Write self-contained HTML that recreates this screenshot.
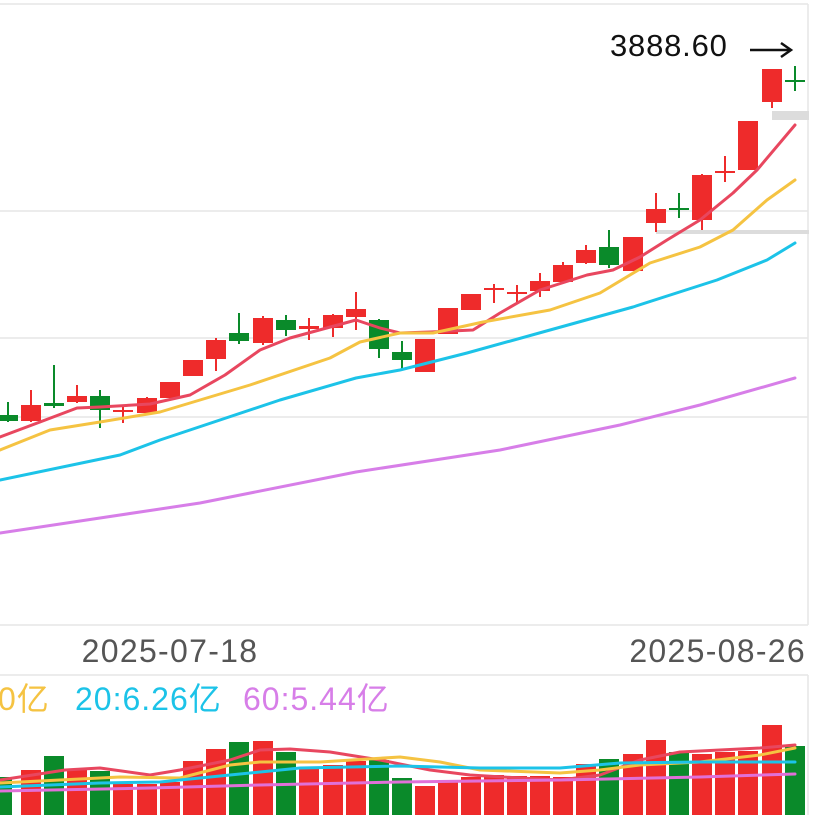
<!DOCTYPE html>
<html><head><meta charset="utf-8"><style>
html,body{margin:0;padding:0;background:#fff;width:815px;height:815px;overflow:hidden}
svg{display:block}
text{font-family:"Liberation Sans","Noto Sans CJK SC",sans-serif}
</style></head><body>
<svg width="815" height="815" viewBox="0 0 815 815" xmlns="http://www.w3.org/2000/svg">
<g stroke="#e6e6e6" stroke-width="1.5" fill="none">
<line x1="0" y1="4" x2="808" y2="4"/>
<line x1="0" y1="211" x2="808" y2="211"/>
<line x1="0" y1="338" x2="808" y2="338"/>
<line x1="0" y1="417" x2="808" y2="417"/>
<line x1="0" y1="625" x2="808" y2="625"/>
<line x1="808" y1="4" x2="808" y2="625"/>
<line x1="0" y1="675" x2="808" y2="675"/>
<line x1="808" y1="675" x2="808" y2="815"/>
</g>
<rect x="772" y="111" width="37" height="9" fill="#dcdcdc"/>
<rect x="656" y="230" width="153" height="4" fill="#dcdcdc"/>
<g stroke="#0a8a2a" stroke-width="2">
<line x1="8" y1="402" x2="8" y2="422"/><line x1="54" y1="365" x2="54" y2="408"/><line x1="100" y1="390" x2="100" y2="428"/><line x1="239" y1="313" x2="239" y2="344"/><line x1="286" y1="315" x2="286" y2="336"/><line x1="379" y1="319" x2="379" y2="358"/><line x1="402" y1="341" x2="402" y2="369"/><line x1="609" y1="230" x2="609" y2="268"/><line x1="679" y1="193" x2="679" y2="218"/><line x1="795" y1="66" x2="795" y2="91"/>
</g>
<g stroke="#ee2b2b" stroke-width="2">
<line x1="31" y1="390" x2="31" y2="422"/><line x1="77" y1="385" x2="77" y2="403"/><line x1="123" y1="405" x2="123" y2="423"/><line x1="147" y1="397" x2="147" y2="414"/><line x1="216" y1="338" x2="216" y2="371"/><line x1="263" y1="316" x2="263" y2="345"/><line x1="309" y1="318" x2="309" y2="340"/><line x1="333" y1="314" x2="333" y2="337"/><line x1="356" y1="292" x2="356" y2="330"/><line x1="494" y1="284" x2="494" y2="303"/><line x1="517" y1="285" x2="517" y2="302"/><line x1="540" y1="273" x2="540" y2="297"/><line x1="563" y1="262" x2="563" y2="283"/><line x1="586" y1="245" x2="586" y2="264"/><line x1="656" y1="193" x2="656" y2="232"/><line x1="702" y1="174" x2="702" y2="230"/><line x1="725" y1="156" x2="725" y2="182"/><line x1="772" y1="69" x2="772" y2="108"/>
</g>
<g fill="#0a8a2a">
<rect x="-2" y="415" width="20" height="6"/><rect x="44" y="403" width="20" height="3"/><rect x="90" y="396" width="20" height="14"/><rect x="229" y="333" width="20" height="8"/><rect x="276" y="320" width="20" height="10"/><rect x="369" y="320" width="20" height="29"/><rect x="392" y="352" width="20" height="8"/><rect x="599" y="247" width="20" height="18"/><rect x="669" y="208" width="20" height="2"/><rect x="785" y="80" width="20" height="2"/>
<rect x="-2" y="777" width="14" height="38"/><rect x="44" y="756" width="20" height="59"/><rect x="90" y="771" width="20" height="44"/><rect x="229" y="742" width="20" height="73"/><rect x="276" y="752" width="20" height="63"/><rect x="369" y="760" width="20" height="55"/><rect x="392" y="778" width="20" height="37"/><rect x="599" y="759" width="20" height="56"/><rect x="669" y="752" width="20" height="63"/><rect x="785" y="746" width="20" height="69"/>
</g>
<g fill="#ee2b2b">
<rect x="21" y="405" width="20" height="16"/><rect x="67" y="396" width="20" height="6"/><rect x="113" y="410" width="20" height="2"/><rect x="137" y="398" width="20" height="15"/><rect x="160" y="382" width="20" height="16"/><rect x="183" y="360" width="20" height="16"/><rect x="206" y="340" width="20" height="19"/><rect x="253" y="318" width="20" height="25"/><rect x="299" y="326" width="20" height="3"/><rect x="323" y="315" width="20" height="13"/><rect x="346" y="309" width="20" height="8"/><rect x="415" y="339" width="20" height="33"/><rect x="438" y="308" width="20" height="26"/><rect x="461" y="294" width="20" height="16"/><rect x="484" y="288" width="20" height="2"/><rect x="507" y="292" width="20" height="2"/><rect x="530" y="281" width="20" height="10"/><rect x="553" y="265" width="20" height="17"/><rect x="576" y="250" width="20" height="13"/><rect x="623" y="237" width="20" height="34"/><rect x="646" y="209" width="20" height="14"/><rect x="692" y="175" width="20" height="45"/><rect x="715" y="171" width="20" height="2"/><rect x="738" y="121" width="20" height="49"/><rect x="762" y="69" width="20" height="33"/>
<rect x="21" y="770" width="20" height="45"/><rect x="67" y="769" width="20" height="46"/><rect x="113" y="784" width="20" height="31"/><rect x="137" y="784" width="20" height="31"/><rect x="160" y="782" width="20" height="33"/><rect x="183" y="761" width="20" height="54"/><rect x="206" y="749" width="20" height="66"/><rect x="253" y="741" width="20" height="74"/><rect x="299" y="767" width="20" height="48"/><rect x="323" y="765" width="20" height="50"/><rect x="346" y="761" width="20" height="54"/><rect x="415" y="786" width="20" height="29"/><rect x="438" y="780" width="20" height="35"/><rect x="461" y="777" width="20" height="38"/><rect x="484" y="775" width="20" height="40"/><rect x="507" y="776" width="20" height="39"/><rect x="530" y="776" width="20" height="39"/><rect x="553" y="777" width="20" height="38"/><rect x="576" y="764" width="20" height="51"/><rect x="623" y="754" width="20" height="61"/><rect x="646" y="740" width="20" height="75"/><rect x="692" y="754" width="20" height="61"/><rect x="715" y="752" width="20" height="63"/><rect x="738" y="751" width="20" height="64"/><rect x="762" y="725" width="20" height="90"/>
</g>
<g fill="none" stroke-width="3" stroke-linejoin="round" stroke-linecap="round">
<polyline stroke="#e8475f" points="0,437 40,422 77,408 100,407 150,404 190,395 225,375 260,350 290,338 356,320 380,328 400,333 430,332 473,330 500,313 540,290 587,275 613,270 640,257 667,240 700,220 733,193 757,170 795,125"/>
<polyline stroke="#f5c342" points="0,450 50,430 100,422 160,412 250,385 330,358 360,342 400,333 433,333 483,322 550,310 600,293 650,263 700,247 733,230 767,200 795,180"/>
<polyline stroke="#1cc3e8" points="0,480 120,455 160,440 280,400 356,378 400,370 467,353 550,330 633,307 717,280 767,260 795,243"/>
<polyline stroke="#d77ee8" points="0,533 100,518 200,503 356,472 500,450 620,425 700,405 795,378"/>
<polyline stroke="#e8475f" points="0,780 65,770 100,768 150,775 180,770 230,760 260,750 290,749 330,752 380,760 430,770 470,775 520,778 560,780 600,775 640,760 680,752 720,750 760,748 795,745"/>
<polyline stroke="#f5c342" points="0,783 60,780 120,777 180,778 230,765 260,762 320,762 400,757 440,762 480,770 560,773 600,770 640,765 700,762 760,755 795,748"/>
<polyline stroke="#1cc3e8" points="0,787 100,783 160,782 230,775 300,768 350,767 400,766 480,768 560,768 620,763 700,762 795,762"/>
<polyline stroke="#e070d8" points="0,791 150,788 260,785 400,782 560,780 700,777 795,774"/>
</g>
<text x="610" y="56" font-size="31" letter-spacing="0.8" fill="#111">3888.60</text>
<line x1="750" y1="50" x2="790" y2="50" stroke="#111" stroke-width="2.5"/>
<polyline points="781,43 791,50 781,57" fill="none" stroke="#111" stroke-width="2.5"/>
<text x="170" y="662" font-size="32" letter-spacing="1.3" fill="#555" text-anchor="middle">2025-07-18</text>
<text x="806" y="662" font-size="32" letter-spacing="1.3" fill="#555" text-anchor="end">2025-08-26</text>
<text x="-2" y="710" font-size="32" letter-spacing="1" fill="#f5c342">0亿</text>
<text x="75" y="710" font-size="32" letter-spacing="1" fill="#1cc3e8">20:6.26亿</text>
<text x="243" y="710" font-size="32" letter-spacing="1" fill="#d77ee8">60:5.44亿</text>
</svg>
</body></html>
